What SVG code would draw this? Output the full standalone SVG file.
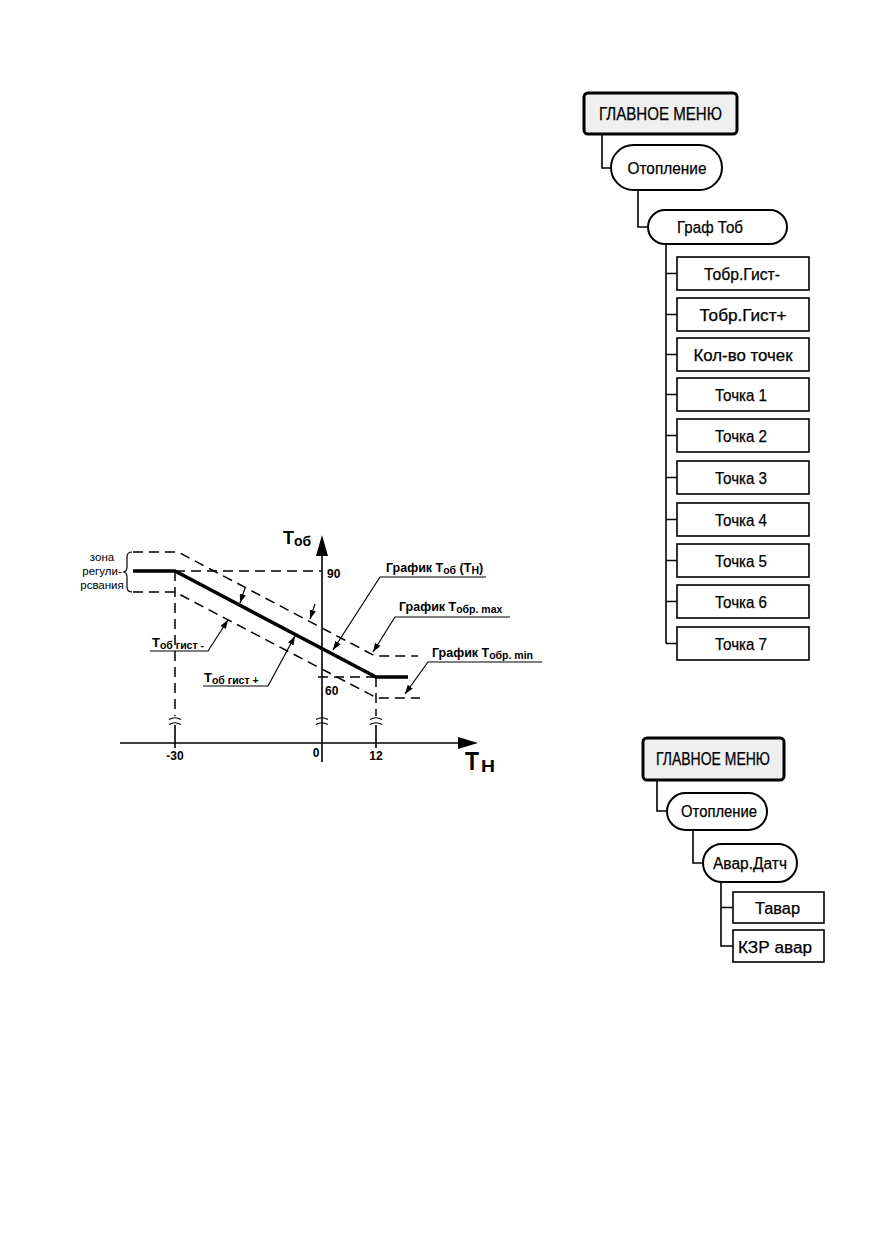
<svg xmlns="http://www.w3.org/2000/svg" width="872" height="1239" viewBox="0 0 872 1239">
<defs>
<style>
.bg{fill:#fff}
.main{fill:#efefef;stroke:#000;stroke-width:3}
.pill{fill:#fff;stroke:#000;stroke-width:2}
.item{fill:#fff;stroke:#000;stroke-width:1.6}
.conn{fill:none;stroke:#000;stroke-width:1.6}
.mt{font-family:"Liberation Sans",Arial,sans-serif;fill:#000;text-anchor:middle;stroke:#000;stroke-width:0.25}
.gt{font-family:"Liberation Sans",Arial,sans-serif;fill:#000;font-weight:bold}
.zt{font-family:"Liberation Sans",Arial,sans-serif;fill:#000;font-size:11.5px;text-anchor:middle}
.ax{fill:none;stroke:#000;stroke-width:1.6}
.dash{fill:none;stroke:#000;stroke-width:1.5;stroke-dasharray:10 6}
.thick{fill:none;stroke:#000;stroke-width:3.5}
.thin{fill:none;stroke:#000;stroke-width:1.2}
</style>
<marker id="arr" viewBox="0 0 10 10" refX="10" refY="5" markerWidth="9" markerHeight="9" markerUnits="userSpaceOnUse" orient="auto">
<path d="M0,1.5 L10,5 L0,8.5 z" fill="#000"/>
</marker>
</defs>
<rect class="bg" x="0" y="0" width="872" height="1239"/>

<!-- Top menu -->
<g id="connectors-top">
<path class="conn" d="M602,134 V168 H611"/>
<path class="conn" d="M638,190 V227 H648"/>
<path class="conn" d="M666,244 V643.5"/>
<path class="conn" d="M666,273.5 H677 M666,314.5 H677 M666,354.5 H677 M666,394.5 H677 M666,435.5 H677 M666,477.5 H677 M666,519.5 H677 M666,560.5 H677 M666,601.5 H677 M666,643.5 H677"/>
</g>
<g id="n-main1"><rect class="main" x="584" y="93" width="153" height="41" rx="4"/><text class="mt" x="660.5" y="120" font-size="19" textLength="123" lengthAdjust="spacingAndGlyphs">ГЛАВНОЕ МЕНЮ</text></g>
<g id="n-otop1"><rect class="pill" x="611" y="145" width="111" height="45" rx="22.5"/><text class="mt" x="667" y="174" font-size="17" textLength="79" lengthAdjust="spacingAndGlyphs">Отопление</text></g>
<g id="n-graf"><rect class="pill" x="648" y="210" width="139" height="34" rx="17"/><text class="mt" x="710" y="233" font-size="17" textLength="66" lengthAdjust="spacingAndGlyphs">Граф Тоб</text></g>
<g id="n-i1"><rect class="item" x="677" y="257" width="132" height="33"/><text class="mt" x="742" y="280" font-size="16" textLength="76" lengthAdjust="spacingAndGlyphs">Тобр.Гист-</text></g>
<g id="n-i2"><rect class="item" x="677" y="298" width="132" height="33"/><text class="mt" x="743" y="321" font-size="16" textLength="87" lengthAdjust="spacingAndGlyphs">Тобр.Гист+</text></g>
<g id="n-i3"><rect class="item" x="677" y="338" width="132" height="33"/><text class="mt" x="743" y="361" font-size="16" textLength="99" lengthAdjust="spacingAndGlyphs">Кол-во точек</text></g>
<g id="n-i4"><rect class="item" x="677" y="378" width="132" height="33"/><text class="mt" x="741" y="401" font-size="16" textLength="52" lengthAdjust="spacingAndGlyphs">Точка 1</text></g>
<g id="n-i5"><rect class="item" x="677" y="419" width="132" height="33"/><text class="mt" x="741" y="442" font-size="16" textLength="52" lengthAdjust="spacingAndGlyphs">Точка 2</text></g>
<g id="n-i6"><rect class="item" x="677" y="461" width="132" height="33"/><text class="mt" x="741" y="484" font-size="16" textLength="52" lengthAdjust="spacingAndGlyphs">Точка 3</text></g>
<g id="n-i7"><rect class="item" x="677" y="503" width="132" height="33"/><text class="mt" x="741" y="526" font-size="16" textLength="52" lengthAdjust="spacingAndGlyphs">Точка 4</text></g>
<g id="n-i8"><rect class="item" x="677" y="544" width="132" height="33"/><text class="mt" x="741" y="567" font-size="16" textLength="52" lengthAdjust="spacingAndGlyphs">Точка 5</text></g>
<g id="n-i9"><rect class="item" x="677" y="585" width="132" height="33"/><text class="mt" x="741" y="608" font-size="16" textLength="52" lengthAdjust="spacingAndGlyphs">Точка 6</text></g>
<g id="n-i10"><rect class="item" x="677" y="627" width="132" height="33"/><text class="mt" x="741" y="650" font-size="16" textLength="52" lengthAdjust="spacingAndGlyphs">Точка 7</text></g>

<!-- Bottom menu -->
<g id="connectors-bottom">
<path class="conn" d="M657,780 V811 H667"/>
<path class="conn" d="M693,830 V863 H703"/>
<path class="conn" d="M721,882 V946 H733 M721,907.5 H733"/>
</g>
<g id="n-main2"><rect class="main" x="643" y="738" width="141" height="42" rx="4"/><text class="mt" x="713" y="765" font-size="18" textLength="114" lengthAdjust="spacingAndGlyphs">ГЛАВНОЕ МЕНЮ</text></g>
<g id="n-otop2"><rect class="pill" x="667" y="793" width="100" height="37" rx="18.5"/><text class="mt" x="719" y="817" font-size="16" textLength="76" lengthAdjust="spacingAndGlyphs">Отопление</text></g>
<g id="n-avar"><rect class="pill" x="703" y="844" width="94" height="38" rx="19"/><text class="mt" x="750" y="869" font-size="16" textLength="74" lengthAdjust="spacingAndGlyphs">Авар.Датч</text></g>
<g id="n-tavar"><rect class="item" x="733" y="892" width="91" height="31"/><text class="mt" x="777.5" y="914" font-size="16" textLength="45" lengthAdjust="spacingAndGlyphs">Тавар</text></g>
<g id="n-kzr"><rect class="item" x="733" y="930" width="91" height="32"/><text class="mt" x="775" y="953" font-size="16" textLength="74" lengthAdjust="spacingAndGlyphs">КЗР авар</text></g>

<!-- Graph -->
<g id="graph">
<path class="ax" d="M120,743 H462"/>
<polygon points="478,743 458,737 458,749" fill="#000"/>
<path class="ax" d="M322,762 V553"/>
<polygon points="322,535 316,556 328,556" fill="#000"/>
<path class="dash" d="M175,571 V716"/>
<path class="dash" d="M376,677 V716"/>
<path class="ax" d="M175,725 V748 M376,725 V748"/>
<path class="thin" d="M169,719.5 q6,-3.5 12,0 M169,724.5 q6,-3.5 12,0 M316,719.5 q6,-3.5 12,0 M316,724.5 q6,-3.5 12,0 M370,719.5 q6,-3.5 12,0 M370,724.5 q6,-3.5 12,0"/>
<path class="dash" d="M175,571 H322"/>
<path class="dash" d="M318,677 H376"/>
<polyline class="dash" points="133,552 178,552 375,656 418,656"/>
<polyline class="dash" points="133,592 175,592 377,698 420,698"/>
<polyline class="thick" points="133,571 175,571 376,677 408,677"/>
<path class="thin" d="M132,552 Q127,552 127,557 V567 Q127,572 123,572 Q127,572 127,577 V587 Q127,592 132,592"/>
<text class="zt" x="102" y="561">зона</text>
<text class="zt" x="102" y="575">регули-</text>
<text class="zt" x="102" y="589">рсвания</text>
<text class="gt" x="175" y="760" font-size="12" text-anchor="middle">-30</text>
<text class="gt" x="316" y="757" font-size="12" text-anchor="middle">0</text>
<text class="gt" x="376" y="760" font-size="12" text-anchor="middle">12</text>
<text class="gt" x="327" y="578" font-size="12">90</text>
<text class="gt" x="325" y="695" font-size="12">60</text>
<text class="gt" x="283" y="544" font-size="18">Т<tspan font-size="14" dy="2">об</tspan></text>
<text class="gt" x="465" y="770" font-size="25" textLength="14" lengthAdjust="spacingAndGlyphs">Т</text>
<text class="gt" x="481" y="772" font-size="17" textLength="14" lengthAdjust="spacingAndGlyphs">Н</text>
<path class="thin" d="M245,588 L240,603" marker-end="url(#arr)"/>
<path class="thin" d="M150,651 H208 L228,620" marker-end="url(#arr)"/>
<path class="thin" d="M315,604 L310,619" marker-end="url(#arr)"/>
<path class="thin" d="M203,686 H268 L295,636" marker-end="url(#arr)"/>
<text class="gt" x="152" y="647" font-size="13">Т<tspan font-size="10.5" dy="2">об гист -</tspan></text>
<text class="gt" x="204" y="682" font-size="13">Т<tspan font-size="10.5" dy="2">об гист +</tspan></text>
<path class="thin" d="M486,577 H380 L333,650" marker-end="url(#arr)"/>
<path class="thin" d="M510,617 H395 L373,652" marker-end="url(#arr)"/>
<path class="thin" d="M542,662 H428 L405,694" marker-end="url(#arr)"/>
<text class="gt" x="386" y="572" font-size="12.5">График Т<tspan font-size="10.5" dy="2">об</tspan><tspan dy="-2"> (Т</tspan><tspan font-size="10.5" dy="2">Н</tspan><tspan dy="-2">)</tspan></text>
<text class="gt" x="399" y="611" font-size="12.5">График Т<tspan font-size="10.5" dy="2">обр. max</tspan></text>
<text class="gt" x="432" y="657" font-size="12.5">График Т<tspan font-size="10.5" dy="2">обр. min</tspan></text>
</g>
</svg>
